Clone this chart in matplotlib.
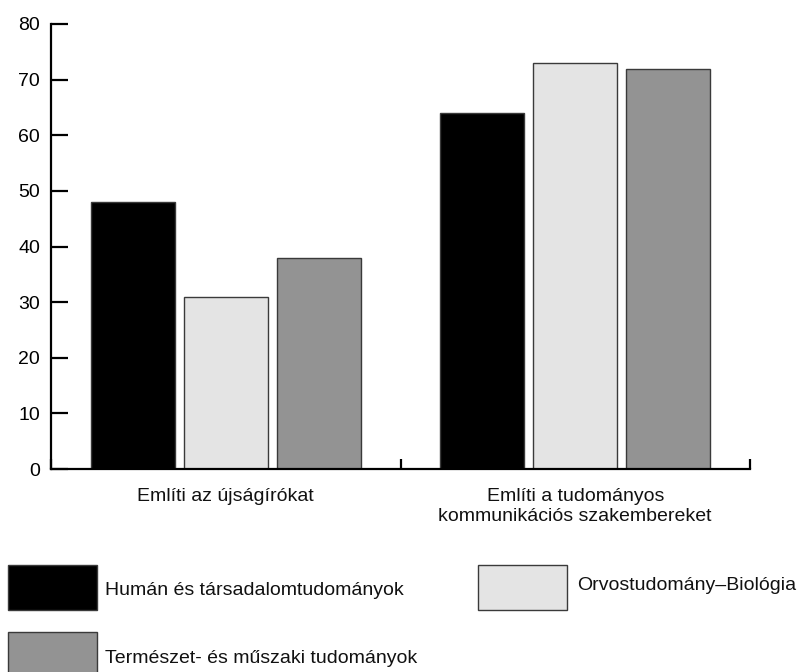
import numpy as np
import matplotlib
matplotlib.use("Agg")
import matplotlib.pyplot as plt
from matplotlib.patches import Rectangle

plt.rcParams['font.family'] = ['Liberation Sans', 'DejaVu Sans']

# adatok
kategoriak = ["Említi az újságírókat", "Említi a tudományos\nkommunikációs szakembereket"]
sorozatok = ["Humán és társadalomtudományok", "Orvostudomány–Biológia",
             "Természet- és műszaki tudományok"]
human = [48, 64]
orvos = [31, 73]
termeszet = [38, 72]
szinek = ["#000000", "#e4e4e4", "#939393"]

fig = plt.figure(figsize=(8.01, 6.72), dpi=100)
ax = fig.add_axes([51/801, 1 - 469/672, 699/801, 445/672])

x = np.arange(len(kategoriak)) + 0.5
offset = 0.266
szel = 0.24
for i, (vals, c) in enumerate(zip([human, orvos, termeszet], szinek)):
    ax.bar(x + (i - 1) * offset, vals, width=szel, color=c,
           edgecolor="#3a3a3a", linewidth=1)

ax.set_xlim(0, 2)
ax.set_ylim(0, 80)
ax.set_yticks(range(0, 81, 10))
ax.spines['top'].set_visible(False)
ax.spines['right'].set_visible(False)
ax.spines['left'].set_linewidth(1.6)
ax.spines['bottom'].set_linewidth(1.6)

ax.tick_params(axis='y', direction='in', length=12, width=1.6, pad=8, labelsize=14)
ax.set_xticks([0, 1, 2])
ax.set_xticklabels([])
ax.tick_params(axis='x', which='major', direction='in', length=7, width=1.6)
ax.set_xticks(x, minor=True)
ax.set_xticklabels(kategoriak, minor=True, fontsize=14, color="#111111")
ax.tick_params(axis='x', which='minor', length=0, pad=14)

# jelmagyarázat
poz = [(8, 565, 105, 595), (478, 565, 577, 590), (8, 632, 105, 663)]
for (bx, by, tx, ty), nev, c in zip(poz, sorozatok, szinek):
    fig.add_artist(Rectangle((bx/801, 1 - (by + 45)/672), 89/801, 45/672,
                             facecolor=c, edgecolor="#3a3a3a", linewidth=1,
                             transform=fig.transFigure))
    fig.text(tx/801, 1 - ty/672, nev, fontsize=14, va='baseline', ha='left',
             color="#111111")

fig.savefig("out.png", dpi=100)
